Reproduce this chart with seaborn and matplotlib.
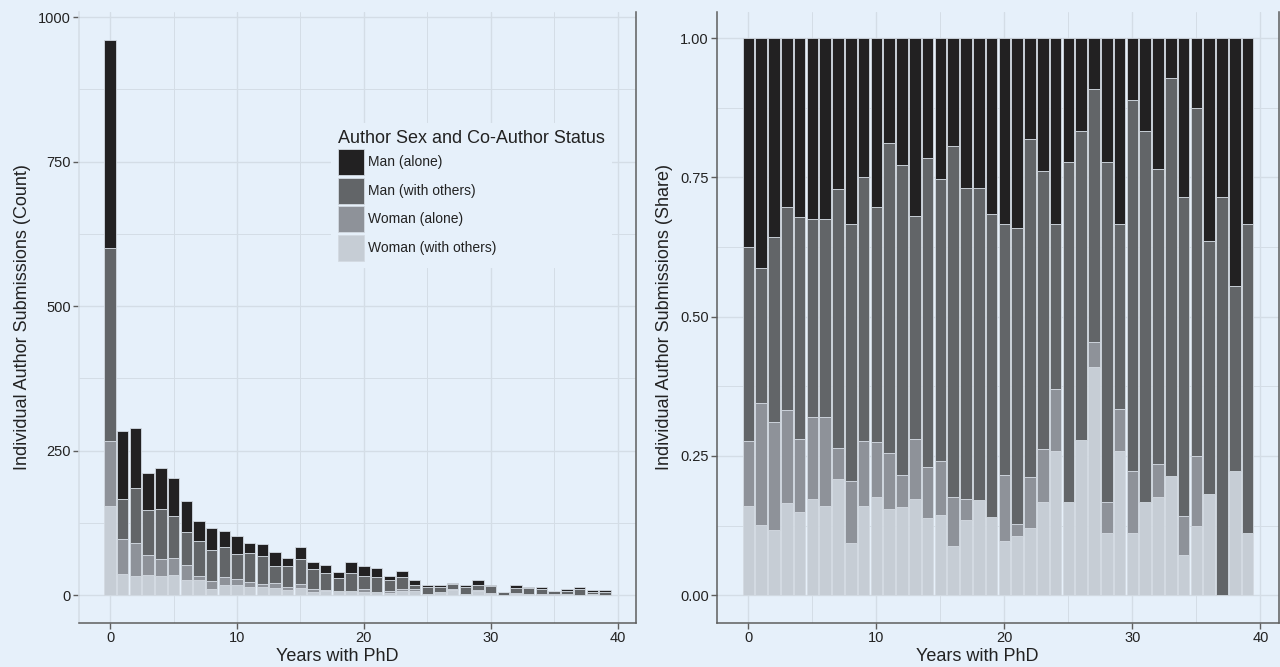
import matplotlib.pyplot as plt
import matplotlib.ticker as mticker
from matplotlib.patches import Patch
import pandas as pd
import seaborn as sns

years = list(range(40))
man_alone = [360, 117, 103, 64, 71, 66, 53, 35, 39, 28,
             31, 17, 20, 24, 14, 21, 11, 14, 11, 18,
             17, 16, 6, 10, 9, 4, 3, 2, 4, 9,
             2, 1, 4, 1, 4, 1, 4, 4, 4, 3]
man_others = [335, 69, 96, 77, 88, 72, 58, 60, 54, 53,
              43, 50, 49, 30, 36, 42, 36, 29, 23, 31,
              23, 25, 20, 21, 8, 11, 10, 10, 11, 9,
              12, 4, 9, 10, 8, 5, 5, 10, 3, 5]
woman_alone = [112, 62, 56, 35, 29, 30, 26, 7, 13, 13,
               10, 9, 5, 8, 6, 8, 5, 2, 0, 0,
               6, 1, 3, 4, 3, 0, 0, 1, 1, 2,
               2, 0, 1, 0, 1, 1, 0, 0, 0, 0]
woman_others = [154, 36, 34, 35, 33, 35, 26, 27, 11, 18,
                18, 14, 14, 13, 9, 12, 5, 7, 7, 8,
                5, 5, 4, 7, 7, 3, 5, 9, 2, 7,
                2, 1, 3, 3, 1, 1, 2, 0, 2, 1]

groups = ["Man (alone)", "Man (with others)", "Woman (alone)", "Woman (with others)"]
grays = ["#222122", "#626568", "#8E9299", "#C6CDD5"]

BG = "#E6F0FA"
GRID = "#D4DDE6"
SPINE = "#5E5E5E"
TXT = "#222222"

rows = []
for g, vals in zip(groups, [man_alone, man_others, woman_alone, woman_others]):
    for yr, n in zip(years, vals):
        rows.append({"years": yr, "group": g, "n": n})
df = pd.DataFrame(rows)

sns.set_theme(style="whitegrid")
plt.rcParams["font.family"] = ["Liberation Sans", "DejaVu Sans"]

fig = plt.figure(figsize=(12.8, 6.67), dpi=100, facecolor=BG)
ax1 = fig.add_axes([79 / 1280, 44 / 667, 557 / 1280, 611 / 667])
ax2 = fig.add_axes([717 / 1280, 44 / 667, 562 / 1280, 611 / 667])

for ax, mode in [(ax1, "stack"), (ax2, "fill")]:
    ax.set_facecolor(BG)
    sns.histplot(data=df, x="years", weights="n", hue="group", hue_order=groups,
                 palette=grays, multiple=mode, discrete=True, shrink=0.9,
                 alpha=1, edgecolor="#D3DAE2", linewidth=0.6, legend=False, ax=ax)
    ax.set_xlim(-2.45, 41.45)
    ax.xaxis.set_major_locator(mticker.FixedLocator([0, 10, 20, 30, 40]))
    ax.xaxis.set_minor_locator(mticker.MultipleLocator(5))
    ax.set_axisbelow(True)
    ax.grid(which="major", color=GRID, linewidth=1.0)
    ax.grid(which="minor", color=GRID, linewidth=0.7)
    ax.tick_params(which="major", direction="out", length=4, width=1, color=SPINE,
                   labelsize=10.5, labelcolor=TXT, pad=2, bottom=True, left=True)
    ax.tick_params(which="minor", length=0)
    ax.set_xlabel("Years with PhD", fontsize=13, color=TXT)
    ax.xaxis.set_label_coords(0.4635, -0.041)
    ax.spines["top"].set_visible(False)
    for s in ["left", "bottom", "right"]:
        ax.spines[s].set_color(SPINE)
        ax.spines[s].set_linewidth(1.1)

# left: counts
ax1.set_ylim(-48, 1009)
ax1.yaxis.set_major_locator(mticker.FixedLocator([0, 250, 500, 750, 1000]))
ax1.yaxis.set_minor_locator(mticker.MultipleLocator(125))
ax1.spines["left"].set_color(GRID)
ax1.set_ylabel("Individual Author Submissions (Count)", fontsize=13, color=TXT, labelpad=5)

handles = [Patch(facecolor=c, edgecolor="#D3DAE2", linewidth=0.6) for c in grays]
leg = ax1.legend(handles=handles, labels=groups, title="Author Sex and Co-Author Status",
                 loc="upper left", bbox_to_anchor=(0.44, 0.83), frameon=True,
                 facecolor=BG, edgecolor="none", framealpha=1, fontsize=10,
                 title_fontsize=13, handlelength=1.87, handleheight=2.5,
                 labelspacing=0.18, handletextpad=0.3, borderpad=0.5,
                 alignment="left")
for t in leg.get_texts():
    t.set_color(TXT)
leg.get_title().set_color(TXT)

# right: shares
ax2.set_ylim(-0.05, 1.047)
ax2.yaxis.set_major_locator(mticker.FixedLocator([0, 0.25, 0.5, 0.75, 1.0]))
ax2.yaxis.set_minor_locator(mticker.MultipleLocator(0.125))
ax2.yaxis.set_major_formatter(mticker.FormatStrFormatter("%.2f"))
ax2.set_ylabel("Individual Author Submissions (Share)", fontsize=13, color=TXT, labelpad=5)

fig.savefig("out.png", dpi=100, facecolor=BG)
